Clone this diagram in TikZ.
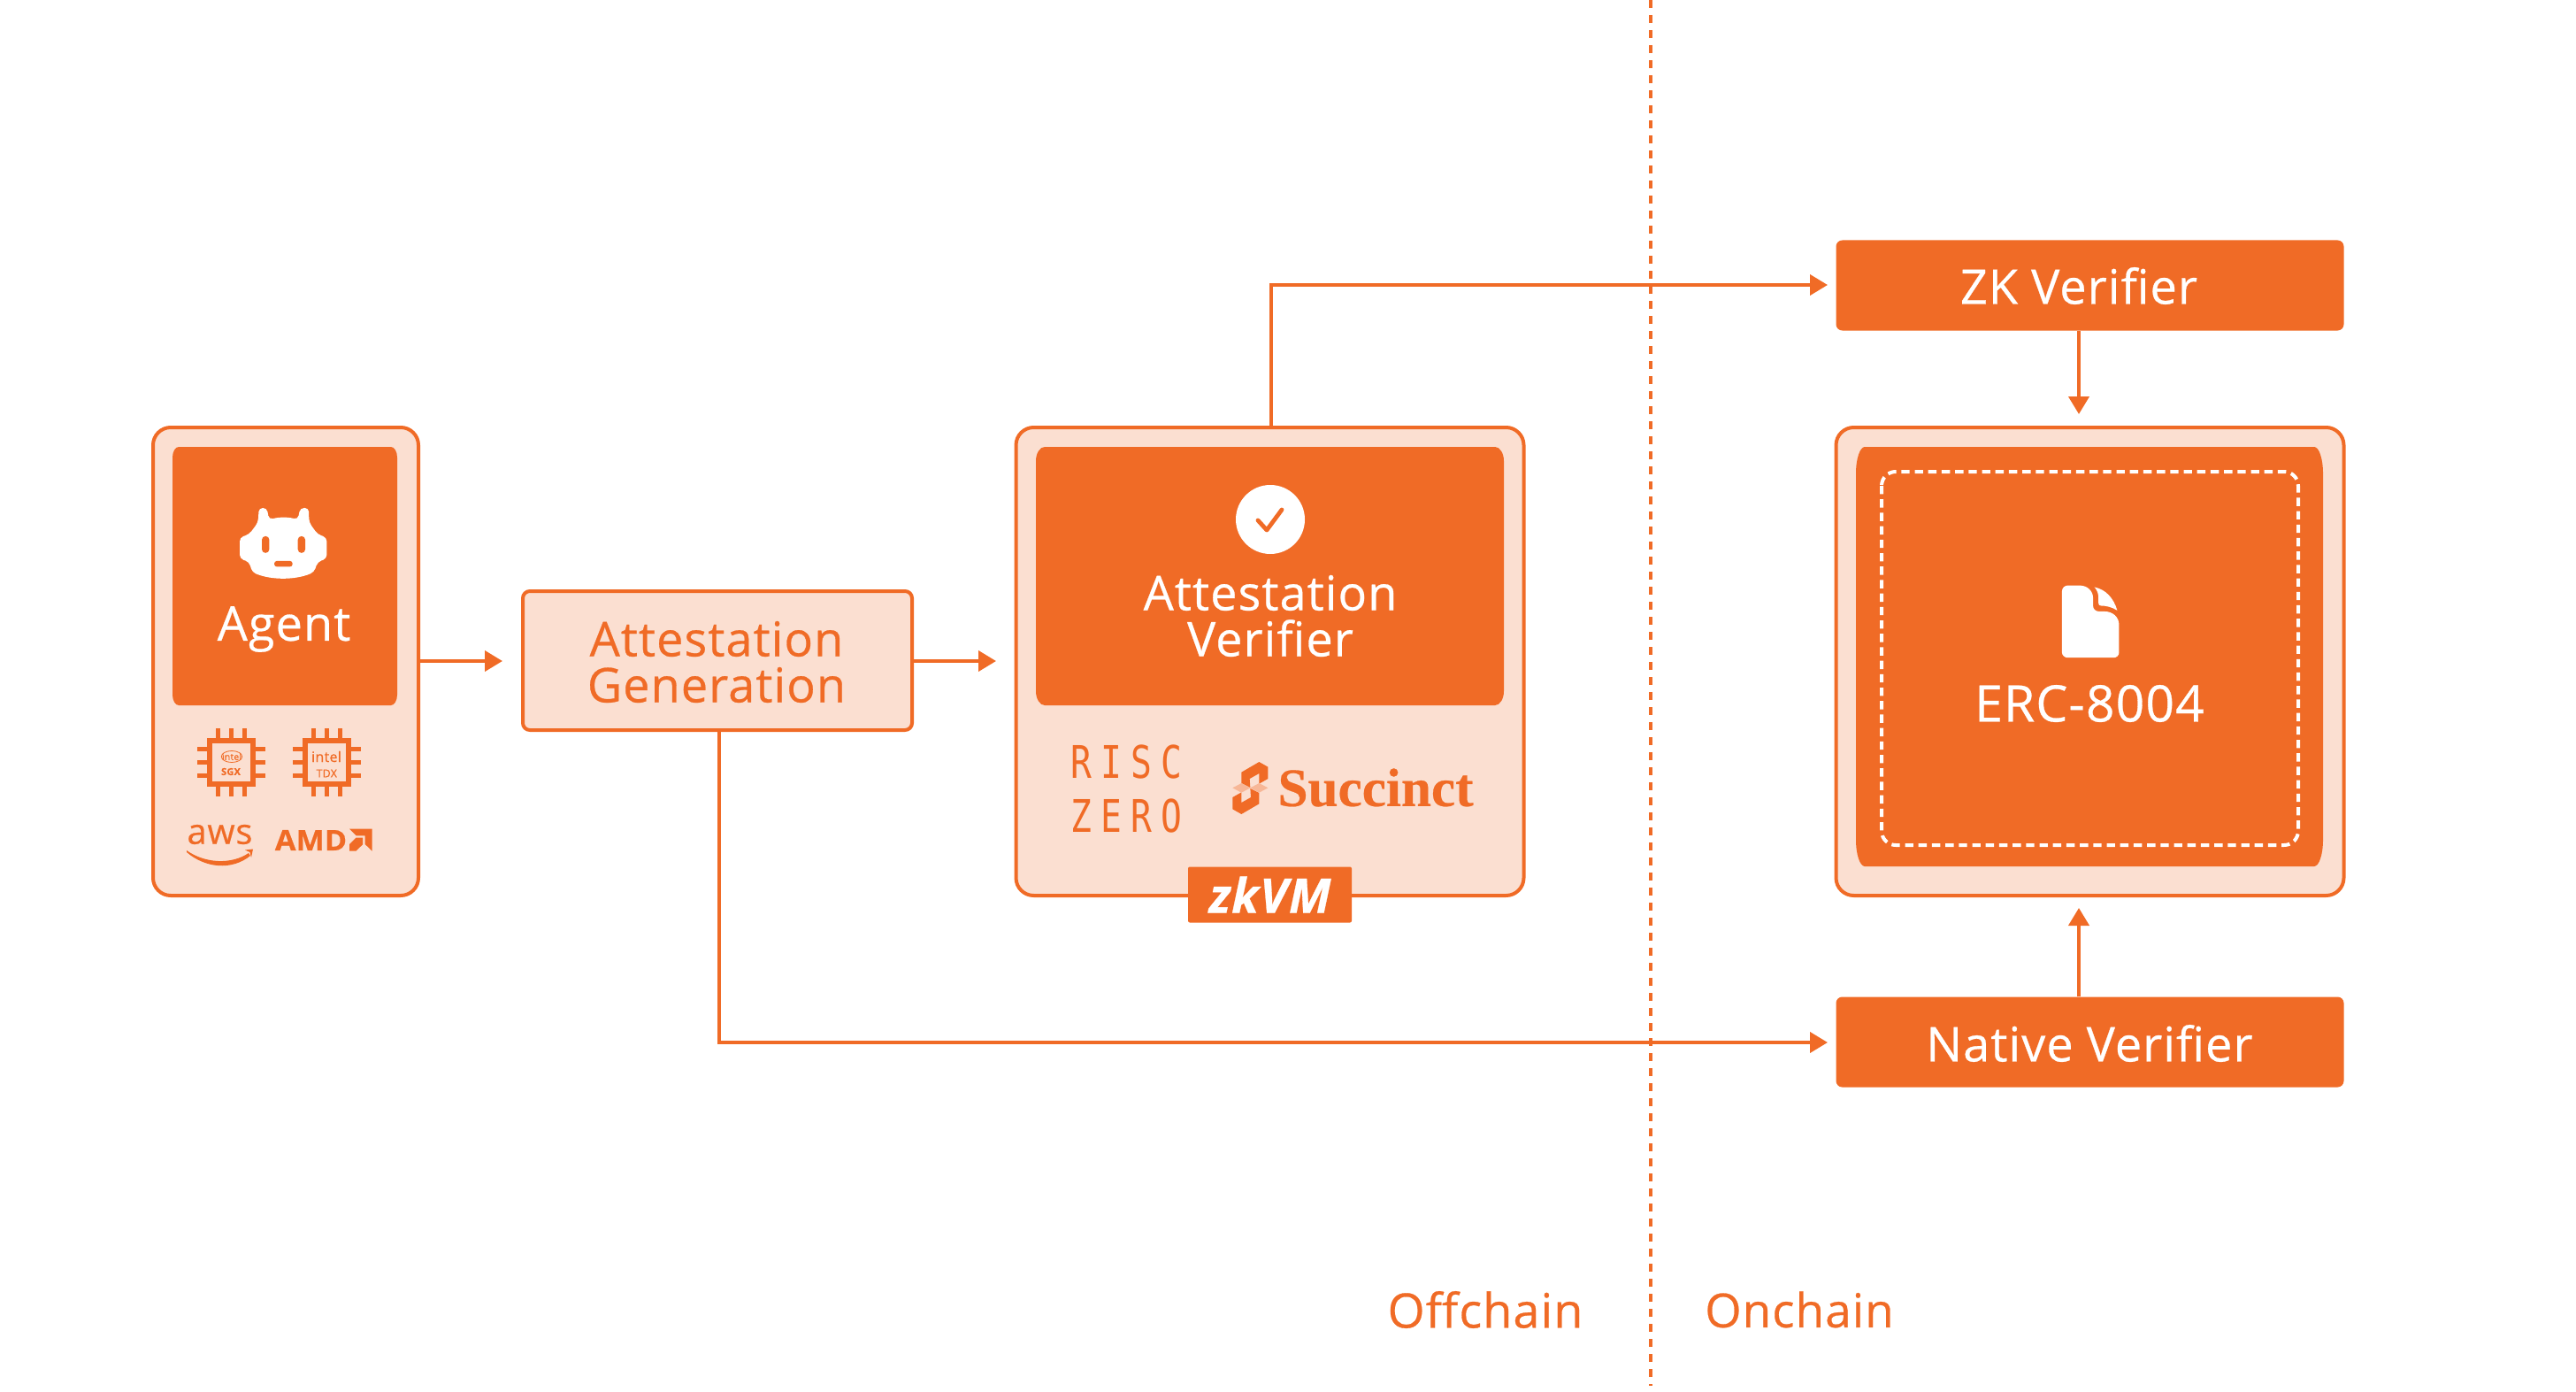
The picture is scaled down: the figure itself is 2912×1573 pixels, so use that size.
\documentclass[tikz,border=0pt]{standalone}
\usepackage{fontspec}
\setmainfont{Open Sans}[LetterSpace=2,FakeBold=0.5]
\newfontfamily\monofam{DejaVu Sans Mono}[FakeStretch=0.78,LetterSpace=20]
\newfontfamily\serifam{Liberation Serif}[FakeBold=0.4]
\newfontfamily\amdfam{Open Sans}[FakeStretch=1.07,FakeBold=0.5]
\usetikzlibrary{arrows.meta}
\definecolor{org}{HTML}{F06B26}
\definecolor{pale}{HTML}{FBDFD1}
\definecolor{mid}{HTML}{F7B797}
\tikzset{
  outerbox/.style={draw=org,fill=pale,line width=2pt,rounded corners=10pt,inner sep=0pt},
  solidbox/.style={fill=org,text=white,rounded corners=3.5pt,inner sep=0pt,align=center},
  lab/.style={inner sep=0pt,font=\fontsize{27}{26}\selectfont,align=center},
  conn/.style={draw=org,line width=2pt,-{Triangle[length=10pt,width=11.5pt]}},
  chipline/.style={draw=org,line width=2.9pt},
  logoscope/.style={x=0.16667pt,y=-0.16667pt},
}
% elliptical-cornered filled panel: x0,y0,x1,y1,rx,ry
\newcommand{\epanel}[6]{\fill[org] (#1+#5,#2) -- (#3-#5,#2)
  .. controls (#3-0.45*#5,#2) and (#3,#2+0.45*#6) .. (#3,#2+#6) -- (#3,#4-#6)
  .. controls (#3,#4-0.45*#6) and (#3-0.45*#5,#4) .. (#3-#5,#4) -- (#1+#5,#4)
  .. controls (#1+0.45*#5,#4) and (#1,#4-0.45*#6) .. (#1,#4-#6) -- (#1,#2+#6)
  .. controls (#1,#2+0.45*#6) and (#1+0.45*#5,#2) .. (#1+#5,#2) -- cycle;}
\newcommand{\chipicon}[2]{\begin{scope}[shift={(#1,#2)}]
  \draw[chipline] (-24.6,-24.6) rectangle (24.6,24.6);
  \foreach \p in {-15,0,15}{
    \draw[chipline] (\p,-27) -- (\p,-38.5) (\p,27) -- (\p,38.5) (-27,\p) -- (-38.5,\p) (27,\p) -- (38.5,\p);}
\end{scope}}
\begin{document}
\begin{tikzpicture}[x=0.5pt,y=-0.5pt]
\useasboundingbox (0,0) rectangle (2912,1573);
% boundary
\coordinate (linetop) at (1866,0);
\coordinate (linebot) at (1866,1566);
\draw[org,line width=2pt,dash pattern=on 4.3pt off 4.2pt] (linetop) -- (linebot);
% outer boxes
\node[outerbox,minimum width=150pt,minimum height=264.5pt] (agentbox) at (323,747.5) {};
\node[outerbox,minimum width=287pt,minimum height=264.5pt] (verbox) at (1435.5,747.5) {};
\node[outerbox,minimum width=287pt,minimum height=264.5pt] (ercbox) at (2362.5,747.5) {};
\node[outerbox,rounded corners=4pt,minimum width=220pt,minimum height=78.5pt] (gen) at (811,746.5) {};
\node[lab,text=org] (gentext) at (810,748) {Attestation\\Generation};
% agent
\epanel{195}{505}{449}{797}{7}{12}
\begin{scope}[shift={(160,468.7)},x=0.1667pt,y=-0.1815pt]
  \fill[white,rounded corners=2.2pt] (395,335) -- (398,290) -- (425,290) -- (432,326) .. controls (470,318) and (495,318) .. (530,326) -- (538,290) -- (567,290) -- (568,335) -- (597,372) -- (628,382) -- (628,448) -- (597,458) -- (585,490) .. controls (520,515) and (440,515) .. (375,490) -- (365,458) -- (333,448) -- (333,382) -- (365,372) -- cycle;
  \fill[org,rounded corners=2pt] (408,378) rectangle (433,430);
  \fill[org,rounded corners=2pt] (530,378) rectangle (555,430);
  \fill[org,rounded corners=1.5pt] (450,455) rectangle (512,473);
\end{scope}
\node[lab,text=white] (agentlabel) at (321,711) {Agent};
\chipicon{261.5}{861.5}
\chipicon{369.5}{861.5}
\node[inner sep=0pt,text=org,font=\fontsize{5.2}{5.2}\selectfont] (sgxa) at (262,855) {intel};
\draw[org,line width=.4pt] (262,855) ellipse (11.7 and 6.5);
\node[inner sep=0pt,text=org,font=\fontsize{5.5}{5.5}\bfseries\selectfont] (sgxb) at (261,872) {SGX};
\node[inner sep=0pt,text=org,font=\fontsize{8}{8}\selectfont] (tdxa) at (369,855) {intel};
\node[inner sep=0pt,text=org,font=\fontsize{6.2}{6.2}\selectfont] (tdxb) at (369.3,874) {TDX};
\node[inner sep=0pt,text=org,font=\fontsize{20}{20}\selectfont] (aws) at (248.5,943) {aws};
\fill[org] (211,961) .. controls (232,976) and (262,977) .. (281,964) -- (283,967) .. controls (262,984) and (232,981) .. (211,963) -- cycle;
\fill[org] (277,960.5) -- (286,959.5) -- (284,969) -- (282.5,963) -- cycle;
\node[inner sep=0pt,text=org,font=\amdfam\fontsize{16}{16}\bfseries\selectfont] (amd) at (351.5,949.5) {AMD};
\begin{scope}[shift={(200,810)},logoscope]
  \fill[org] (585,380) -- (662,380) -- (662,455) -- (638,432) -- (638,403) -- (608,403) -- cycle;
  \fill[org] (607,410) -- (630,410) -- (630,433) -- (607,455) -- (585,455) -- (585,432) -- cycle;
\end{scope}
% verifier
\epanel{1171}{505}{1700}{797}{10}{16}
\node[fill=white,circle,inner sep=0pt,minimum size=39pt] (checkcirc) at (1436,587) {};
\draw[org,line width=2.4pt,line cap=round,line join=round] (1422,588) -- (1432,599) -- (1449,576);
\node[lab,text=white] (avtext) at (1436,696) {Attestation\\Verifier};
\node[inner sep=0pt,text=org,font=\monofam\fontsize{25.4}{30.5}\selectfont,align=left] (risc) at (1273,891) {RISC\\ZERO};
\begin{scope}[shift={(1190,830)},logoscope]
  \fill[org] (640,128) -- (700,93) -- (730,110) -- (730,150) -- (700,167) -- (700,132) -- (668,150) -- (670,180) -- (640,165) -- cycle;
  \fill[org] (700,235) -- (640,270) -- (610,253) -- (610,213) -- (640,196) -- (640,231) -- (672,213) -- (670,183) -- (700,198) -- cycle;
  \fill[mid] (610,181) -- (640,165) -- (670,181) -- (640,197) -- cycle;
  \fill[mid] (670,181) -- (700,165) -- (730,181) -- (700,197) -- cycle;
\end{scope}
\node[inner sep=0pt,text=org,font=\serifam\fontsize{30.6}{30}\bfseries\selectfont] (succ) at (1555,890) {Succinct};
\node[fill=org,text=white,inner sep=0pt,minimum width=92.5pt,minimum height=31.5pt,rounded corners=1pt,font=\fontsize{27}{27}\bfseries\itshape\selectfont] (zkvm) at (1435.5,1011) {zkVM};
% erc
\epanel{2098}{505}{2626}{979}{10}{30}
\draw[white,line width=2pt,dash pattern=on 4.7pt off 2.9pt,rounded corners=8pt] (2127,533) rectangle (2598,955);
\begin{scope}[shift={(2050.5,462)},x=0.2041pt,y=-0.1908pt]
  \fill[white] (687,540) .. controls (687,530) and (695,523) .. (703,523) -- (735,523) .. controls (758,523) and (773,540) .. (773,560) -- (773,583) .. controls (773,593) and (780,600) .. (790,600) -- (805,600) .. controls (828,600) and (845,617) .. (845,640) -- (845,722) .. controls (845,730) and (838,737) .. (830,737) -- (703,737) .. controls (695,737) and (687,730) .. (687,722) -- cycle;
  \fill[white] (777,528) .. controls (808,535) and (830,560) .. (840,597) .. controls (825,587) and (810,583) .. (795,583) .. controls (790,583) and (788,580) .. (788,575) -- (788,560) .. controls (788,548) and (785,538) .. (777,528) -- cycle;
\end{scope}
\node[lab,text=white,font=\fontsize{28.5}{26}\selectfont] (erctext) at (2362,795) {ERC-8004};
% verifiers
\node[solidbox,minimum width=287pt,minimum height=51pt] (zk) at (2362.5,322.5) {};
\node[lab,text=white] (zktext) at (2350,323) {ZK Verifier};
\node[solidbox,minimum width=287pt,minimum height=51pt] (nat) at (2362.5,1177.5) {};
\node[lab,text=white] (nattext) at (2362,1179) {Native Verifier};
\node[lab,text=org] (off) at (1679,1480) {Offchain};
\node[lab,text=org,font=\fontsize{26.5}{26}\selectfont] (on) at (2034,1480) {Onchain};
% connectors
\coordinate (ercTop) at (2350,468);
\coordinate (ercBot) at (2350,1026);
\coordinate (genIn) at (568,747);
\coordinate (verIn) at (1126,747);
\coordinate (zkIn) at (2066,322);
\coordinate (natIn) at (2066,1178);
\coordinate (genOut) at (813,825);
\coordinate (verOut) at (1436.5,483);
\draw[conn] (agentbox.east |- genIn) -- (genIn);
\draw[conn] (gen.east |- verIn) -- (verIn);
\draw[conn] (verOut) -- (verOut |- zkIn) -- (zkIn);
\draw[conn] (genOut) -- (genOut |- natIn) -- (natIn);
\draw[conn] (ercTop |- zk.south) -- (ercTop);
\draw[conn] (ercBot |- nat.north) -- (ercBot);
\end{tikzpicture}
\end{document}
